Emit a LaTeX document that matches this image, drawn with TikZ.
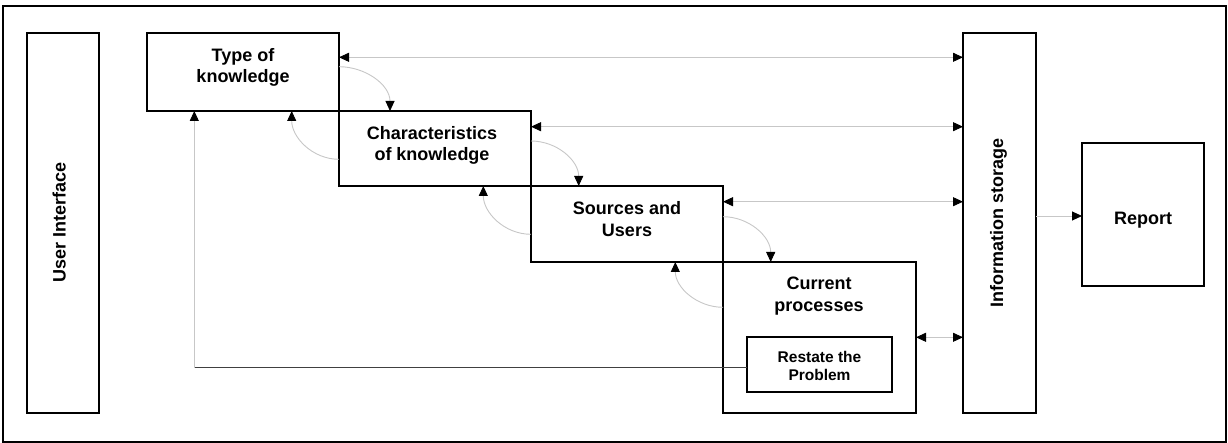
\documentclass[tikz,border=0pt]{standalone}
\usepackage{fontspec}
\setmainfont{Liberation Sans}
\usetikzlibrary{arrows.meta}
\begin{document}
\begin{tikzpicture}[x=1pt,y=1pt,
  >={Triangle[length=10pt,width=9pt,color=black]},
  box/.style={draw=black, line width=2pt, anchor=north west, inner sep=0pt, outer sep=0pt, rectangle},
  lbl/.style={font=\fontsize{18}{21}\selectfont\bfseries, anchor=base, inner sep=0pt},
  slbl/.style={font=\fontsize{15.5}{18}\selectfont\bfseries, anchor=base, inner sep=0pt},
  conn/.style={draw=black!22, line width=0.9pt},
  fb/.style={draw=black!75, line width=0.9pt}
]
\useasboundingbox (0,0) rectangle (1228,-443);
% frame
\node[box, minimum width=1223pt, minimum height=436pt] (frame) at (3,-6) {};
% boxes
\node[box, minimum width=72pt,  minimum height=380pt] (ui)   at (27,-33) {};
\node[box, minimum width=192pt, minimum height=78pt]  (type) at (147,-33) {};
\node[box, minimum width=192pt, minimum height=75pt]  (char) at (339,-111) {};
\node[box, minimum width=192pt, minimum height=76pt]  (src)  at (531,-186) {};
\node[box, minimum width=193pt, minimum height=151pt] (cur)  at (723,-262) {};
\node[box, minimum width=145pt, minimum height=55pt]  (rest) at (747,-337) {};
\node[box, minimum width=73pt,  minimum height=380pt] (info) at (963,-33) {};
\node[box, minimum width=122pt, minimum height=143pt] (rep)  at (1082,-143) {};
% labels
\node[lbl, rotate=90] (tUI) at (65.5,-222.5) {User Interface};
\node[lbl] (tTypeA) at (243,-61.7) {Type of};
\node[lbl] (tTypeB) at (243,-82.7) {knowledge};
\node[lbl] (tCharA) at (432,-139.3) {Characteristics};
\node[lbl] (tCharB) at (432,-161) {of knowledge};
\node[lbl] (tSrcA) at (627,-215) {Sources and};
\node[lbl] (tSrcB) at (627,-236.7) {Users};
\node[lbl] (tCurA) at (819,-290) {Current};
\node[lbl] (tCurB) at (819,-311.5) {processes};
\node[slbl] (tRestA) at (819.5,-362.7) {Restate the};
\node[slbl] (tRestB) at (819.5,-380.7) {Problem};
\node[lbl, rotate=90] (tInfo) at (1003,-222.5) {Information storage};
\node[lbl] (tRep) at (1143,-225) {Report};
% horizontal links to information storage
\coordinate (p1) at ([yshift=-24.3pt]type.north east);
\coordinate (p2) at ([yshift=-15.7pt]char.north east);
\coordinate (p3) at ([yshift=-15.7pt]src.north east);
\coordinate (p4) at ([yshift=-75.3pt]cur.north east);
\coordinate (p5) at ([yshift=-73pt]rep.north west);
\draw[conn,<->] (p1) -- (p1 -| info.west);
\draw[conn,<->] (p2) -- (p2 -| info.west);
\draw[conn,<->] (p3) -- (p3 -| info.west);
\draw[conn,<->] (p4) -- (p4 -| info.west);
\draw[conn,->] (p5 -| info.east) -- (p5);
% forward curved links
\coordinate (a1) at ([yshift=-33.7pt]type.north east);
\coordinate (b1) at ([xshift=51pt]char.north west);
\coordinate (a2) at ([yshift=-30pt]char.north east);
\coordinate (b2) at ([xshift=47.7pt]src.north west);
\coordinate (a3) at ([yshift=-30.7pt]src.north east);
\coordinate (b3) at ([xshift=47.7pt]cur.north west);
\draw[conn,->] (a1) to[out=0,in=90] (b1);
\draw[conn,->] (a2) to[out=0,in=90] (b2);
\draw[conn,->] (a3) to[out=0,in=90] (b3);
% backward curved links
\coordinate (c1) at ([yshift=-48.3pt]char.north west);
\coordinate (d1) at ([xshift=-47.3pt]type.south east);
\coordinate (c2) at ([yshift=-48.3pt]src.north west);
\coordinate (d2) at ([xshift=-47.7pt]char.south east);
\coordinate (c3) at ([yshift=-45.3pt]cur.north west);
\coordinate (d3) at ([xshift=-47.7pt]src.south east);
\draw[conn,->] (c1) to[out=180,in=-90] (d1);
\draw[conn,->] (c2) to[out=180,in=-90] (d2);
\draw[conn,->] (c3) to[out=180,in=-90] (d3);
% feedback from restate to type of knowledge
\coordinate (f0) at ([yshift=-30.7pt]rest.north west);
\coordinate (f1) at ([xshift=47.3pt]type.south west);
\draw[fb] (f0) -- (f0 -| f1);
\draw[conn,->] (f0 -| f1) -- (f1);
\end{tikzpicture}
\end{document}
